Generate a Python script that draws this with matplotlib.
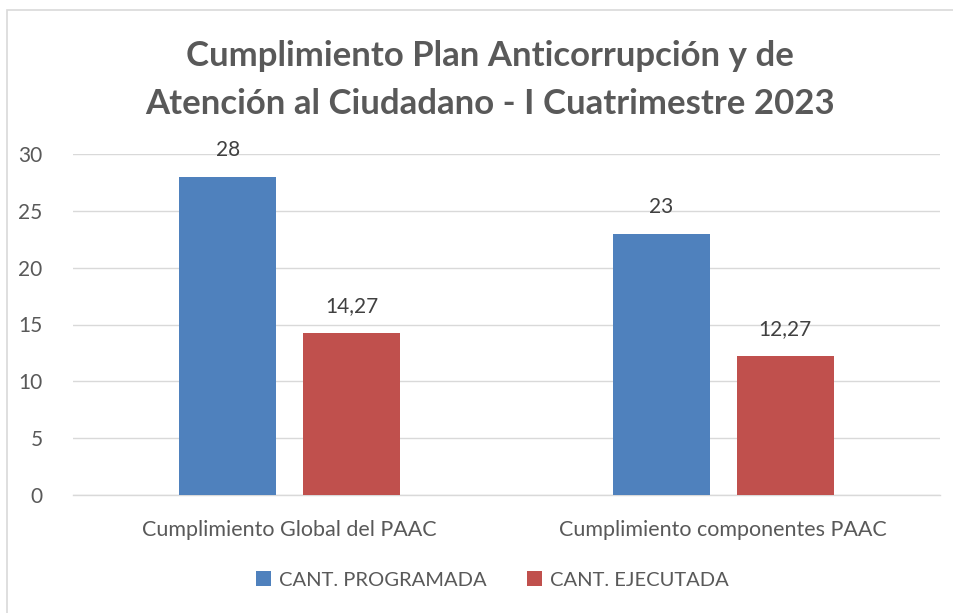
import matplotlib
matplotlib.use("Agg")
import matplotlib.pyplot as plt
import numpy as np
from matplotlib.patches import Rectangle

categories = ["Cumplimiento Global del PAAC", "Cumplimiento componentes PAAC"]
series_names = ["CANT. PROGRAMADA", "CANT. EJECUTADA"]
programada = [28, 23]
ejecutada = [14.27, 12.27]
prog_labels = ["28", "23"]
ejec_labels = ["14,27", "12,27"]
yticks = [0, 5, 10, 15, 20, 25, 30]
title = "Cumplimiento Plan Anticorrupción y de\nAtención al Ciudadano - I Cuatrimestre 2023"

plt.rcParams['font.family'] = ['Lato', 'DejaVu Sans']
txt = '#595959'
blue = '#4F81BD'
red = '#C0504D'

fig = plt.figure(figsize=(9.54, 6.13), dpi=100)
# chart border
fig.add_artist(Rectangle((7/954, -0.1), 1.2, (613-10)/613 + 0.1, transform=fig.transFigure,
                         fill=False, edgecolor='#D9D9D9', linewidth=1.2))

ax = fig.add_axes([73/954, 1-495/613, 867/954, (495-154)/613])
x = np.arange(len(categories))
w = 0.2235
off = 0.143
b1 = ax.bar(x - off, programada, w, color=blue, label=series_names[0], zorder=3)
b2 = ax.bar(x + off, ejecutada, w, color=red, label=series_names[1], zorder=3)
for rect, lab in zip(b1, prog_labels):
    ax.text(rect.get_x() + rect.get_width()/2, rect.get_height() + 1.45, lab,
            ha='center', va='bottom', fontsize=15, color='#404040')
for rect, lab in zip(b2, ejec_labels):
    ax.text(rect.get_x() + rect.get_width()/2, rect.get_height() + 1.45, lab,
            ha='center', va='bottom', fontsize=15, color='#404040')

ax.set_xlim(-0.5, 1.5)
ax.set_ylim(0, 30)
ax.set_yticks(yticks)
ax.set_yticklabels([str(t) for t in yticks], fontsize=15, color=txt)
ax.set_xticks(x)
ax.set_xticklabels(categories, fontsize=15.5, color=txt)
ax.tick_params(axis='both', length=0)
ax.tick_params(axis='y', pad=22)
ax.tick_params(axis='x', pad=18)
ax.yaxis.grid(True, color='#D9D9D9', linewidth=1, zorder=0)
for s in ['top', 'right', 'left']:
    ax.spines[s].set_visible(False)
ax.spines['bottom'].set_color('#D9D9D9')
ax.spines['bottom'].set_linewidth(1)

fig.text(490/954, 1-80/613, title, ha='center', va='center', fontsize=25,
         fontweight='bold', color=txt, linespacing=1.6)

leg = fig.legend(handles=[b1, b2], labels=series_names, loc='center',
                 bbox_to_anchor=(492/954, 1-580/613), ncol=2, frameon=False,
                 fontsize=14.5, handlelength=0.75, handleheight=0.75,
                 columnspacing=2.0, handletextpad=0.4)
for t in leg.get_texts():
    t.set_color(txt)

fig.savefig("out.png", dpi=100)
